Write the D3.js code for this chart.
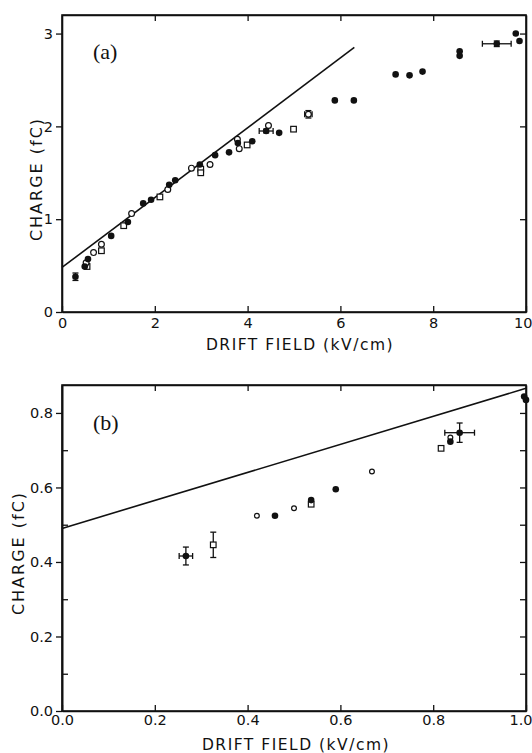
<!DOCTYPE html>
<html>
<head>
<meta charset="utf-8">
<script src="https://cdn.jsdelivr.net/npm/d3@7"></script>
<style>
  body { margin: 0; background: #fff; }
  text { font-family: "DejaVu Sans", sans-serif; fill: #111; }
  .tick text { font-size: 14.5px; }
  .axis-title { font-size: 15.5px; letter-spacing: 1.5px; }
  .y-title { font-size: 16px; letter-spacing: 2px; }
  .panel-label { font-family: "Liberation Serif", serif; font-size: 22px; }
</style>
</head>
<body>
<div id="plot"></div>
<script>
// Panel (a) data: [drift field kV/cm, charge fC]
var aFilled = [[0.29,0.38],[0.49,0.49],[0.56,0.57],[1.06,0.82],[1.42,0.97],[1.75,1.17],[1.92,1.21],
  [2.31,1.37],[2.44,1.42],[2.97,1.59],[3.30,1.69],[3.60,1.72],[3.79,1.82],[4.10,1.84],[4.40,1.95],
  [4.68,1.93],[5.88,2.28],[6.29,2.28],[7.19,2.56],[7.49,2.55],[7.77,2.59],[8.57,2.81],[8.57,2.76],
  [9.37,2.89],[9.78,3.00],[9.86,2.92]];
var aOpen = [[0.52,0.53],[0.68,0.64],[0.85,0.73],[1.50,1.06],[2.28,1.32],[2.79,1.55],[3.19,1.59],
  [3.78,1.86],[3.82,1.76],[4.45,2.01],[5.31,2.13]];
var aSquare = [[0.54,0.49],[0.85,0.66],[1.33,0.93],[2.11,1.24],[2.99,1.54],[2.99,1.50],[3.99,1.80],[4.99,1.97]];
// error bars: [x, y, dx, dy]
var aErrors = [[0.29,0.38,0,0.04],[4.40,1.95,0.15,0.02],[5.31,2.13,0.08,0.04],[9.37,2.89,0.31,0.03]];
var aLine = [[0,0.48],[6.3,2.85]];
var aXTicks = [0,2,4,6,8,10];
var aYTicks = [0,1,2,3];

// Panel (b) data
var bFilled = [[0.267,0.416],[0.459,0.524],[0.537,0.566],[0.59,0.595],[0.837,0.723],[0.857,0.747],[0.996,0.844],[1.0,0.835]];
var bOpen = [[0.42,0.524],[0.50,0.544],[0.668,0.643],[0.837,0.734]];
var bSquare = [[0.326,0.446],[0.537,0.555],[0.817,0.705]];
var bErrors = [[0.267,0.416,0.0145,0.024],[0.326,0.446,0,0.034],[0.857,0.747,0.032,0.026]];
var bLine = [[0,0.49],[1.0,0.866]];
var bXTicks = [0,0.2,0.4,0.6,0.8,1.0];
var bYTicks = [0,0.2,0.4,0.6,0.8];
var bYMinor = [0.1,0.3,0.5,0.7];

var svgWidth = 532;
var svgHeight = 753;

var svg = d3.select("#plot")
  .append("svg")
  .attr("width", svgWidth)
  .attr("height", svgHeight);

svg.append("rect").attr("width", svgWidth).attr("height", svgHeight).attr("fill", "#fff");

// Draw one panel
function drawPanel(opt) {
  var x = opt.x, y = opt.y;
  var g = svg.append("g");
  var x0 = x.range()[0], x1 = x.range()[1];
  var y0 = y.range()[0], y1 = y.range()[1];

  // bottom axis, ticks inward
  var bottom = g.append("g")
    .attr("transform", `translate(0,${y0})`)
    .call(d3.axisBottom(x).tickValues(opt.xTicks).tickSize(-6).tickSizeOuter(0).tickPadding(opt.xPad).tickFormat(opt.xFmt));
  // last label sits against the right edge of the page
  bottom.selectAll(".tick text").filter((d, i, n) => i === n.length - 1)
    .attr("text-anchor", "end").attr("x", svgWidth - x1);
  // top axis
  g.append("g")
    .attr("transform", `translate(0,${y1})`)
    .call(d3.axisTop(x).tickValues(opt.xTicks.slice(1, -1)).tickSize(-6).tickSizeOuter(0).tickFormat(""));
  // left axis, major ticks outward
  g.append("g")
    .attr("transform", `translate(${x0},0)`)
    .call(d3.axisLeft(y).tickValues(opt.yTicks).tickSize(6).tickSizeOuter(0).tickPadding(3).tickFormat(opt.yFmt));
  if (opt.yMinor) {
    g.append("g")
      .attr("transform", `translate(${x0},0)`)
      .call(d3.axisLeft(y).tickValues(opt.yMinor).tickSize(-6).tickSizeOuter(0).tickFormat(""));
  }
  // right axis, ticks inward
  g.append("g")
    .attr("transform", `translate(${x1},0)`)
    .call(d3.axisRight(y).tickValues(opt.yTicks.slice(1).concat(opt.yMinor || [])).tickSize(-6).tickSizeOuter(0).tickFormat(""));

  g.selectAll(".domain").attr("stroke", "#111").attr("stroke-width", 1.6);
  g.selectAll(".tick line").attr("stroke", "#111").attr("stroke-width", 1.3);

  // frame
  g.append("rect")
    .attr("x", x0).attr("y", y1)
    .attr("width", x1 - x0).attr("height", y0 - y1)
    .attr("fill", "none").attr("stroke", "#111").attr("stroke-width", 1.6);

  // theory line
  g.append("path")
    .datum(opt.line)
    .attr("d", d3.line().x(d => x(d[0])).y(d => y(d[1])))
    .attr("fill", "none").attr("stroke", "#111").attr("stroke-width", 1.6);

  // error bars
  opt.errors.forEach(function (e) {
    var cap = 3;
    if (e[2] > 0) {
      g.append("line").attr("x1", x(e[0] - e[2])).attr("x2", x(e[0] + e[2]))
        .attr("y1", y(e[1])).attr("y2", y(e[1])).attr("stroke", "#111").attr("stroke-width", 1.3);
      [e[0] - e[2], e[0] + e[2]].forEach(function (v) {
        g.append("line").attr("x1", x(v)).attr("x2", x(v))
          .attr("y1", y(e[1]) - cap).attr("y2", y(e[1]) + cap).attr("stroke", "#111").attr("stroke-width", 1.3);
      });
    }
    if (e[3] > 0) {
      g.append("line").attr("x1", x(e[0])).attr("x2", x(e[0]))
        .attr("y1", y(e[1] - e[3])).attr("y2", y(e[1] + e[3])).attr("stroke", "#111").attr("stroke-width", 1.3);
      [e[1] - e[3], e[1] + e[3]].forEach(function (v) {
        g.append("line").attr("x1", x(e[0]) - cap).attr("x2", x(e[0]) + cap)
          .attr("y1", y(v)).attr("y2", y(v)).attr("stroke", "#111").attr("stroke-width", 1.3);
      });
    }
  });

  // open squares
  g.selectAll(".sq").data(opt.square).enter().append("rect")
    .attr("x", d => x(d[0]) - 2.8).attr("y", d => y(d[1]) - 2.8)
    .attr("width", 5.6).attr("height", 5.6)
    .attr("fill", "#fff").attr("stroke", "#111").attr("stroke-width", 1.2);
  // open circles
  g.selectAll(".oc").data(opt.open).enter().append("circle")
    .attr("cx", d => x(d[0])).attr("cy", d => y(d[1])).attr("r", opt.openR)
    .attr("fill", "#fff").attr("stroke", "#111").attr("stroke-width", 1.2);
  // filled circles
  g.selectAll(".fc").data(opt.filled).enter().append("circle")
    .attr("cx", d => x(d[0])).attr("cy", d => y(d[1])).attr("r", 3.3)
    .attr("fill", "#111");

  // panel label
  g.append("text").attr("class", "panel-label")
    .attr("x", opt.label[1]).attr("y", opt.label[2])
    .text(opt.label[0]);

  // axis titles
  g.append("text").attr("class", "axis-title")
    .attr("x", opt.xTitle[0]).attr("y", opt.xTitle[1])
    .attr("text-anchor", "middle").attr("dominant-baseline", "middle")
    .text("DRIFT FIELD (kV/cm)");
  g.append("text").attr("class", "y-title")
    .attr("transform", `translate(${opt.yTitle[0]},${opt.yTitle[1]}) rotate(-90)`)
    .attr("text-anchor", "middle").attr("dominant-baseline", "middle")
    .text("CHARGE (fC)");
}

drawPanel({
  x: d3.scaleLinear().domain([0, 10]).range([62, 526]),
  y: d3.scaleLinear().domain([0, 3.2]).range([312, 15]),
  xTicks: aXTicks, yTicks: aYTicks, yMinor: null,
  xFmt: d3.format("d"), yFmt: d3.format("d"), xPad: 6,
  filled: aFilled, open: aOpen, square: aSquare, errors: aErrors, line: aLine, openR: 2.9,
  label: ["(a)", 93, 59], xTitle: [300, 345], yTitle: [37, 179]
});

drawPanel({
  x: d3.scaleLinear().domain([0, 1]).range([62, 526]),
  y: d3.scaleLinear().domain([0, 0.875]).range([711, 385]),
  xTicks: bXTicks, yTicks: bYTicks, yMinor: bYMinor,
  xFmt: d3.format(".1f"), yFmt: d3.format(".1f"), xPad: 4,
  filled: bFilled, open: bOpen, square: bSquare, errors: bErrors, line: bLine, openR: 2.4,
  label: ["(b)", 93, 430], xTitle: [296, 745], yTitle: [19, 553]
});
</script>
</body>
</html>
